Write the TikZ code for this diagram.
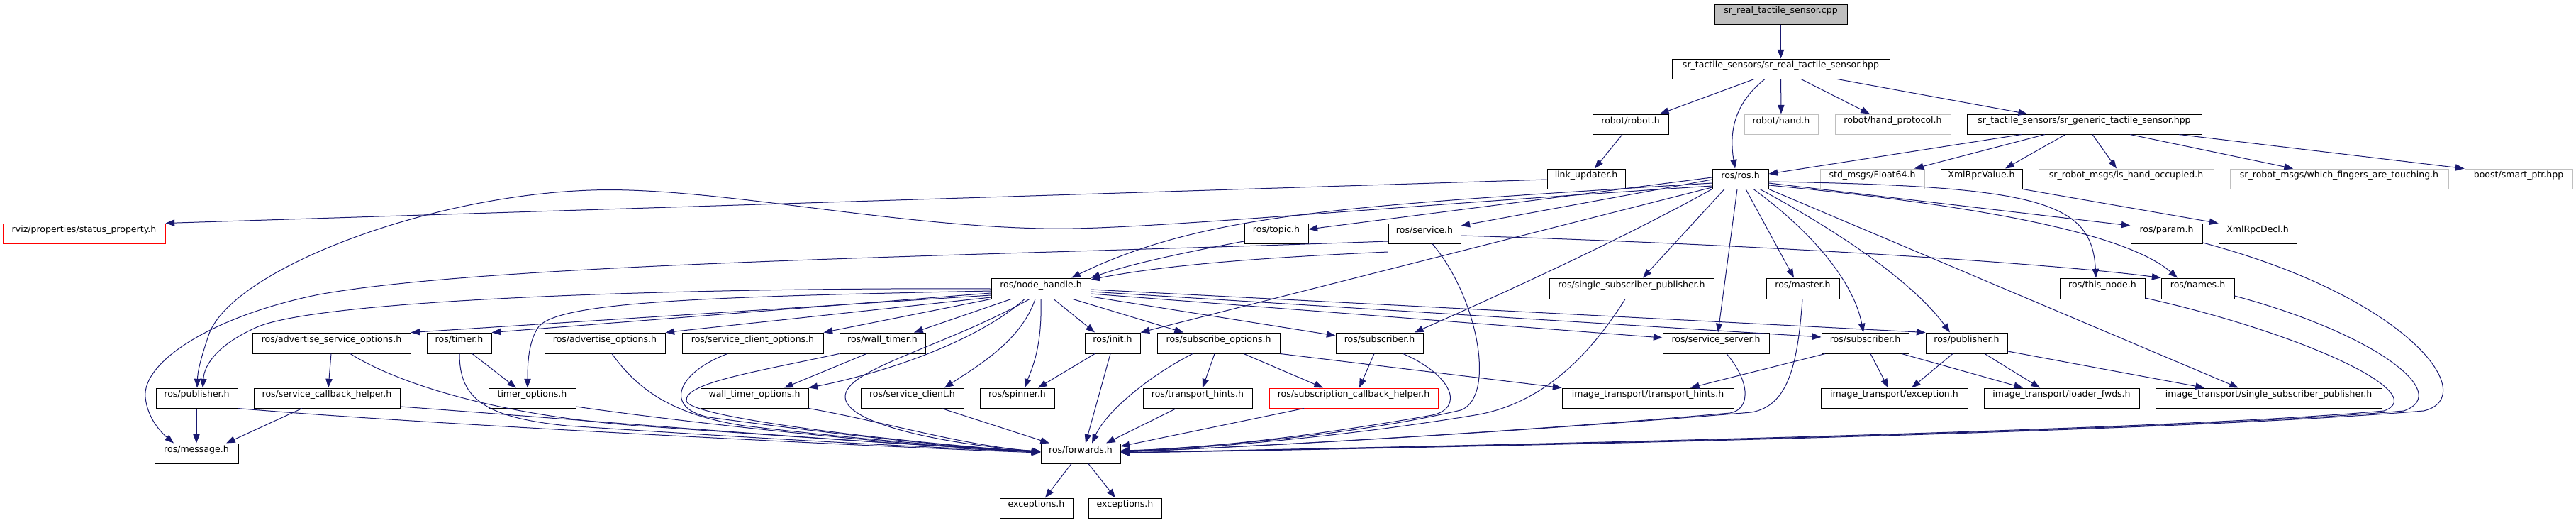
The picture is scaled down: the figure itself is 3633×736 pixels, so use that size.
\documentclass[tikz,border=0pt]{standalone}
\usepackage{fontspec}
\setmainfont{DejaVu Sans}
\usetikzlibrary{arrows.meta,fit}
\definecolor{edgec}{HTML}{191970}
\definecolor{grayc}{HTML}{BFBFBF}
\begin{document}
\begin{tikzpicture}[x=0.75pt,y=-0.75pt,
  bx/.style={draw=black, line width=0.75pt, inner sep=0pt, fill=white, font=\fontsize{9.4pt}{11pt}\selectfont},
  gx/.style={bx, draw=grayc},
  rx/.style={bx, draw=red},
  cx/.style={bx, fill=grayc},
  ln/.style={draw=edgec, line width=0.75pt, -{Triangle[length=9.5pt,width=7pt]}}]
\useasboundingbox (0,0) rectangle (3633,736);
% ---------- nodes ----------
\node[cx, fit={(2418,6) (2605,34)}] (cpp) {sr\_real\_tactile\_sensor.cpp};
\node[bx, fit={(2358,83) (2665,111)}] (hpp) {sr\_tactile\_sensors/sr\_real\_tactile\_sensor.hpp};
\node[bx, fit={(2246,161) (2353,189)}] (robot) {robot/robot.h};
\node[gx, fit={(2460,161) (2564,189)}] (hand) {robot/hand.h};
\node[gx, fit={(2588,161) (2751,189)}] (handp) {robot/hand\_protocol.h};
\node[bx, fit={(2774,161) (3105,189)}] (generic) {sr\_tactile\_sensors/sr\_generic\_tactile\_sensor.hpp};
\node[bx, fit={(2182,238) (2292,266)}] (link) {link\_updater.h};
\node[bx, fit={(2415,238) (2494,266)}] (ros) {ros/ros.h};
\node[gx, fit={(2567,238) (2714,266)}] (float) {std\_msgs/Float64.h};
\node[bx, fit={(2737,238) (2852,266)}] (xmlv) {XmlRpcValue.h};
\node[gx, fit={(2875,238) (3122,266)}] (occ) {sr\_robot\_msgs/is\_hand\_occupied.h};
\node[gx, fit={(3145,238) (3453,266)}] (which) {sr\_robot\_msgs/which\_fingers\_are\_touching.h};
\node[gx, fit={(3476,238) (3628,266)}] (boost) {boost/smart\_ptr.hpp};
\node[rx, fit={(4,315) (233,343)}] (rviz) {rviz/properties/status\_property.h};
\node[bx, fit={(1755,315) (1845,343)}] (topic) {ros/topic.h};
\node[bx, fit={(1958,315) (2060,343)}] (service) {ros/service.h};
\node[bx, fit={(3005,315) (3106,343)}] (param) {ros/param.h};
\node[bx, fit={(3129,315) (3239,343)}] (xmld) {XmlRpcDecl.h};
\node[bx, fit={(1398,392) (1538,421)}] (nh) {ros/node\_handle.h};
\node[bx, fit={(2185,392) (2417,421)}] (ssp) {ros/single\_subscriber\_publisher.h};
\node[bx, fit={(2491,392) (2594,421)}] (master) {ros/master.h};
\node[bx, fit={(2905,392) (3025,421)}] (thisnode) {ros/this\_node.h};
\node[bx, fit={(3048,392) (3151,421)}] (names) {ros/names.h};
\node[bx, fit={(356,469) (579,498)}] (aso) {ros/advertise\_service\_options.h};
\node[bx, fit={(602,469) (693,498)}] (timer) {ros/timer.h};
\node[bx, fit={(768,469) (938,498)}] (ao) {ros/advertise\_options.h};
\node[bx, fit={(962,469) (1161,498)}] (sco) {ros/service\_client\_options.h};
\node[bx, fit={(1184,469) (1305,498)}] (wt) {ros/wall\_timer.h};
\node[bx, fit={(1530,469) (1608,498)}] (init) {ros/init.h};
\node[bx, fit={(1632,469) (1805,498)}] (so) {ros/subscribe\_options.h};
\node[bx, fit={(1884,469) (2007,498)}] (subA) {ros/subscriber.h};
\node[bx, fit={(2345,469) (2495,498)}] (ss) {ros/service\_server.h};
\node[bx, fit={(2569,469) (2692,498)}] (subB) {ros/subscriber.h};
\node[bx, fit={(2716,469) (2831,498)}] (pubB) {ros/publisher.h};
\node[bx, fit={(220,547) (335,575)}] (pubA) {ros/publisher.h};
\node[bx, fit={(358,547) (564,575)}] (sch) {ros/service\_callback\_helper.h};
\node[bx, fit={(689,547) (812,575)}] (tmo) {timer\_options.h};
\node[bx, fit={(988,547) (1140,575)}] (wto) {wall\_timer\_options.h};
\node[bx, fit={(1214,547) (1359,575)}] (sc) {ros/service\_client.h};
\node[bx, fit={(1382,547) (1487,575)}] (spin) {ros/spinner.h};
\node[bx, fit={(1612,547) (1766,575)}] (th) {ros/transport\_hints.h};
\node[rx, fit={(1790,547) (2028,575)}] (scbh) {ros/subscription\_callback\_helper.h};
\node[bx, fit={(2203,547) (2445,575)}] (itth) {image\_transport/transport\_hints.h};
\node[bx, fit={(2568,547) (2775,575)}] (itex) {image\_transport/exception.h};
\node[bx, fit={(2798,547) (3017,575)}] (itlf) {image\_transport/loader\_fwds.h};
\node[bx, fit={(3040,547) (3359,575)}] (itssp) {image\_transport/single\_subscriber\_publisher.h};
\node[bx, fit={(218,625) (336,653)}] (msg) {ros/message.h};
\node[bx, fit={(1468,625) (1580,653)}] (fwd) {ros/forwards.h};
\node[bx, fit={(1410,702) (1513,730)}] (ex1) {exceptions.h};
\node[bx, fit={(1535,702) (1638,730)}] (ex2) {exceptions.h};
% ---------- edges ----------
\draw[ln] (cpp) -- (hpp);
\draw[ln] (hpp.south -| 2474,0) -- (robot.north -| 2341,0);
\draw[ln] (hpp.south -| 2489,0) .. controls (2440,150) and (2440,195) .. (ros.north -| 2447,0);
\draw[ln] (hpp) -- (hand);
\draw[ln] (hpp.south -| 2540,0) -- (handp.north -| 2637,0);
\draw[ln] (hpp.south -| 2591,0) -- (generic.north -| 2859,0);
\draw[ln] (robot.south -| 2288,0) -- (link.north -| 2249,0);
\draw[ln] (link.west |- 0,253) -- (rviz.north east);
\draw[ln] (generic.south -| 2851,0) -- (ros.east |- 0,245);
\draw[ln] (generic.south -| 2884,0) -- (float.north -| 2700,0);
\draw[ln] (generic.south -| 2913,0) -- (xmlv.north -| 2828,0);
\draw[ln] (generic.south -| 2951,0) -- (occ.north -| 2985,0);
\draw[ln] (generic.south -| 3004,0) -- (which.north -| 3234,0);
\draw[ln] (generic.south -| 3073,0) -- (boost.north west);
\draw[ln] (xmlv.south east) -- (xmld.north west);
% ros.h
\draw[ln] (ros.east |- 0,258) -- (param.west |- 0,318);
\draw[ln] (ros.east |- 0,256) .. controls (2880,262) and (2950,285) .. (thisnode.north -| 2956,0);
\draw[ln] (ros.east |- 0,261) .. controls (2800,290) and (3000,330) .. (names.north -| 3071,0);
\draw[ln] (ros.west |- 0,253) -- (service.east |- 0,318);
\draw[ln] (ros.west |- 0,250) -- (topic.east |- 0,323);
\draw[ln] (ros.west |- 0,258) .. controls (1900,290) and (1700,300) .. (nh.north -| 1511,0);
\draw[ln] (ros.west |- 0,262) .. controls (1900,295) and (1600,325) .. (1472,322) .. controls (1250,318) and (1000,262) .. (833,268) .. controls (600,276) and (330,380) .. (295,470) .. controls (285,500) and (279,520) .. (pubA.north -| 278,0);
\draw[ln] (ros.west |- 0,264) -- (init.north east);
\draw[ln] (ros.south west) .. controls (2300,330) and (2150,400) .. (subA.north -| 1995,0);
\draw[ln] (ros.south -| 2432,0) -- (ssp.north -| 2317,0);
\draw[ln] (ros.south -| 2450,0) -- (ss.north -| 2423,0);
\draw[ln] (ros.south -| 2462,0) -- (master.north -| 2530,0);
\draw[ln] (ros.south -| 2473,0) .. controls (2560,330) and (2615,400) .. (subB.north -| 2628,0);
\draw[ln] (ros.south -| 2482,0) .. controls (2600,330) and (2700,400) .. (pubB.north -| 2750,0);
\draw[ln] (ros.south east) -- (itssp.north -| 3157,0);
% node_handle.h
\draw[ln] (nh.west |- 0,407) .. controls (1000,405) and (450,420) .. (360,462) .. controls (305,487) and (288,515) .. (pubA.north -| 286,0);
\draw[ln] (nh.west |- 0,410) .. controls (1000,418) and (790,425) .. (760,460) .. controls (745,480) and (744,515) .. (tmo.north -| 744,0);
\draw[ln] (nh.west |- 0,413) -- (timer.north east);
\draw[ln] (nh.west |- 0,416) -- (aso.north east);
\draw[ln] (nh.west |- 0,419) -- (ao.north east);
\draw[ln] (nh.south west) -- (sco.north east);
\draw[ln] (nh.south -| 1426,0) -- (wt.north -| 1289,0);
\draw[ln] (nh.south -| 1445,0) .. controls (1380,480) and (1250,525) .. (wto.north east);
\draw[ln] (nh.south -| 1452,0) .. controls (1330,490) and (1190,520) .. (1192,560) .. controls (1194,600) and (1350,628) .. (fwd.west |- 0,636);
\draw[ln] (nh.south -| 1460,0) .. controls (1440,480) and (1380,515) .. (sc.north -| 1332,0);
\draw[ln] (nh.south -| 1468,0) .. controls (1470,490) and (1455,520) .. (spin.north -| 1445,0);
\draw[ln] (nh.south -| 1486,0) -- (init.north -| 1544,0);
\draw[ln] (nh.south -| 1513,0) -- (so.north -| 1669,0);
\draw[ln] (nh.east |- 0,418) -- (subA.west |- 0,473);
\draw[ln] (nh.east |- 0,414) -- (ss.west |- 0,476);
\draw[ln] (nh.east |- 0,411) -- (subB.west |- 0,475);
\draw[ln] (nh.east |- 0,408) -- (pubB.north west);
% topic / service
\draw[ln] (topic.west |- 0,340) .. controls (1690,352) and (1600,370) .. (nh.north east);
\draw[ln] (service.west |- 0,355) .. controls (1800,362) and (1650,372) .. (nh.east |- 0,394);
\draw[ln] (service.west |- 0,340) .. controls (1400,360) and (700,370) .. (450,415) .. controls (300,445) and (200,510) .. (205,560) .. controls (208,590) and (228,610) .. (msg.north -| 245,0);
\draw[ln] (service.east |- 0,332) .. controls (2500,345) and (2900,372) .. (names.north west);
\draw[ln] (service.south -| 2020,0) .. controls (2085,420) and (2110,560) .. (2060,578) .. controls (1900,615) and (1700,630) .. (fwd.east |- 0,636);
% middle
\draw[ln] (init.south -| 1544,0) -- (spin.north -| 1464,0);
\draw[ln] (init.south -| 1566,0) -- (fwd.north -| 1531,0);
\draw[ln] (so.south -| 1682,0) .. controls (1620,530) and (1560,580) .. (fwd.north -| 1540,0);
\draw[ln] (so.south -| 1713,0) -- (th.north -| 1696,0);
\draw[ln] (so.south -| 1754,0) -- (scbh.north -| 1866,0);
\draw[ln] (so.south east) -- (itth.north west);
\draw[ln] (subA.south -| 1938,0) -- (scbh.north -| 1917,0);
\draw[ln] (subA.south -| 1979,0) .. controls (2050,530) and (2065,575) .. (2020,585) .. controls (1850,615) and (1700,632) .. (fwd.east |- 0,635);
\draw[ln] (scbh.south -| 1839,0) -- (fwd.east |- 0,629);
\draw[ln] (th.south -| 1659,0) -- (fwd.north -| 1560,0);
\draw[ln] (sc.south -| 1328,0) -- (fwd.north -| 1480,0);
\draw[ln] (ssp.south -| 2292,0) .. controls (2230,520) and (2160,572) .. (2080,585) .. controls (1900,615) and (1700,632) .. (fwd.east |- 0,636);
\draw[ln] (ss.south -| 2435,0) .. controls (2470,540) and (2468,577) .. (2440,582) .. controls (2100,612) and (1750,630) .. (fwd.east |- 0,637);
\draw[ln] (master.south -| 2542,0) .. controls (2535,520) and (2520,572) .. (2470,581) .. controls (2100,612) and (1750,630) .. (fwd.east |- 0,637);
\draw[ln] (thisnode.east |- 0,420) .. controls (3250,470) and (3430,555) .. (3362,579) .. controls (3000,612) and (1800,633) .. (fwd.east |- 0,638);
\draw[ln] (names.east |- 0,417) .. controls (3350,470) and (3460,555) .. (3390,579) .. controls (3000,613) and (1800,634) .. (fwd.east |- 0,638);
\draw[ln] (param.east |- 0,342) .. controls (3400,420) and (3500,560) .. (3418,579) .. controls (3000,614) and (1800,635) .. (fwd.east |- 0,638);
% image_transport
\draw[ln] (pubB.south -| 2754,0) -- (itex.north -| 2696,0);
\draw[ln] (pubB.south -| 2799,0) -- (itlf.north -| 2877,0);
\draw[ln] (pubB.east |- 0,495) -- (itssp.north -| 3109,0);
\draw[ln] (subB.south -| 2638,0) -- (itex.north -| 2663,0);
\draw[ln] (subB.south -| 2682,0) -- (itlf.north -| 2853,0);
\draw[ln] (subB.south -| 2574,0) -- (itth.north -| 2384,0);
% left part
\draw[ln] (pubA.south -| 277,0) -- (msg.north -| 277,0);
\draw[ln] (pubA.south east) .. controls (600,598) and (1200,628) .. (fwd.west |- 0,638);
\draw[ln] (sch.south -| 426,0) -- (msg.north -| 319,0);
\draw[ln] (sch.east |- 0,573) .. controls (800,590) and (1200,624) .. (fwd.west |- 0,636);
\draw[ln] (aso.south -| 467,0) -- (sch.north -| 463,0);
\draw[ln] (aso.south -| 494,0) .. controls (560,540) and (700,585) .. (900,600) .. controls (1100,614) and (1300,628) .. (fwd.west |- 0,636);
\draw[ln] (timer.south -| 666,0) -- (tmo.north -| 728,0);
\draw[ln] (timer.south -| 648,0) .. controls (648,560) and (680,588) .. (800,600) .. controls (1100,620) and (1300,630) .. (fwd.west |- 0,637);
\draw[ln] (tmo.east |- 0,573) .. controls (1000,600) and (1300,630) .. (fwd.west |- 0,637);
\draw[ln] (ao.south -| 863,0) .. controls (900,550) and (950,585) .. (1050,600) .. controls (1200,618) and (1350,630) .. (fwd.west |- 0,637);
\draw[ln] (sco.south -| 1026,0) .. controls (955,525) and (935,575) .. (1000,588) .. controls (1200,615) and (1350,630) .. (fwd.west |- 0,637);
\draw[ln] (wt.south -| 1222,0) -- (wto.north -| 1106,0);
\draw[ln] (wt.south west) .. controls (1060,525) and (965,540) .. (968,565) .. controls (972,590) and (1300,626) .. (fwd.west |- 0,637);
\draw[ln] (wto.south east) .. controls (1250,595) and (1350,626) .. (fwd.west |- 0,637);
\draw[ln] (fwd.south -| 1511,0) -- (ex1.north -| 1474,0);
\draw[ln] (fwd.south -| 1535,0) -- (ex2.north -| 1573,0);
\end{tikzpicture}
\end{document}
